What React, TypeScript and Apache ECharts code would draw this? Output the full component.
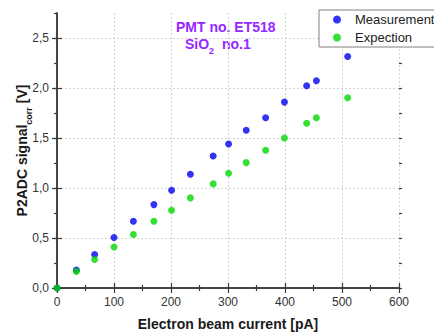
import React, { useEffect, useRef } from "react";
import * as echarts from "echarts";

const currentPA = [0, 34, 66, 100, 134, 170, 201, 234, 274, 301, 332, 366, 399, 438, 455, 510];
const measurement = [0, 0.18, 0.335, 0.505, 0.668, 0.834, 0.978, 1.138, 1.32, 1.44, 1.577, 1.703, 1.859, 2.022, 2.072, 2.315];
const expection = [0, 0.166, 0.285, 0.41, 0.535, 0.668, 0.778, 0.901, 1.041, 1.148, 1.254, 1.377, 1.5, 1.647, 1.703, 1.902];
const yMajorTicks = [0, 0.5, 1, 1.5, 2, 2.5];
const seriesNames = ["Measurement", "Expection"];

const AXIS_COLOR = "#3a3a3a";
const LABEL_COLOR = "#333";
const FONT = "Liberation Sans, Arial, sans-serif";

export default function App() {
  const ref = useRef<HTMLDivElement>(null);
  useEffect(() => {
    if (!ref.current) return;
    const chart = echarts.init(ref.current, null, { renderer: "svg" });
    const gridRect = { left: 57, right: 35, top: 13, bottom: 44, containLabel: false, outerBoundsMode: "none" };
    const axisLine = { show: true, lineStyle: { color: AXIS_COLOR, width: 1.5 } };
    const splitLine = { show: true, lineStyle: { color: "#d4d4d4", type: [2, 2], width: 1 } };
    chart.setOption({
      animation: false,
      textStyle: { fontFamily: FONT },
      grid: [{ ...gridRect }, { ...gridRect }],
      legend: {
        orient: "vertical",
        left: 319,
        top: 10,
        padding: [2, 2, 2, 14],
        itemGap: 3,
        itemWidth: 8,
        itemHeight: 8,
        icon: "circle",
        backgroundColor: "#fff",
        borderColor: "#808080",
        borderWidth: 1,
        borderRadius: 0,
        textStyle: { fontSize: 13, color: "#222", padding: [0, 0, 0, 9], lineHeight: 15, fontFamily: FONT },
        data: seriesNames,
      },
      graphic: [
        {
          type: "text",
          left: 176,
          top: 20,
          style: { text: "PMT no. ET518", fill: "#9628ff", font: `bold 14px ${FONT}` },
        },
        {
          type: "text",
          left: 185,
          top: 37,
          style: {
            text: "{a|SiO}{s|2}{a|  no.1}",
            rich: {
              a: { fill: "#9628ff", fontSize: 14, fontWeight: "bold", fontFamily: FONT, lineHeight: 16, verticalAlign: "middle" },
              s: { fill: "#9628ff", fontSize: 9, fontWeight: "bold", fontFamily: FONT, lineHeight: 9, verticalAlign: "bottom", padding: [0, 0, -3, 0] },
            },
          },
        },
      ],
      xAxis: [
        {
          gridIndex: 0,
          type: "value",
          position: "bottom",
          min: 0,
          max: 600,
          interval: 100,
          axisLine,
          axisTick: { show: true, inside: false, length: 5, lineStyle: { color: AXIS_COLOR, width: 1.2 } },
          minorTick: { show: true, splitNumber: 2, length: 3, lineStyle: { color: AXIS_COLOR, width: 1.2 } },
          axisLabel: { fontSize: 12, color: LABEL_COLOR, margin: 8, fontFamily: FONT },
          splitLine,
          name: "Electron beam current [pA]",
          nameLocation: "middle",
          nameGap: 29,
          nameMoveOverlap: false,
          nameTextStyle: { fontSize: 14, fontWeight: "bold", color: "#1a1a1a", fontFamily: FONT },
        },
        {
          gridIndex: 0,
          type: "value",
          position: "top",
          min: 0,
          max: 600,
          interval: 100,
          axisLine,
          axisTick: { show: true, inside: false, length: 5, lineStyle: { color: AXIS_COLOR, width: 1.2 } },
          minorTick: { show: true, splitNumber: 2, length: 3, lineStyle: { color: AXIS_COLOR, width: 1.2 } },
          axisLabel: { show: false },
          splitLine: { show: false },
        },
        {
          gridIndex: 1,
          type: "value",
          min: 0,
          max: 600,
          show: false,
        },
      ],
      yAxis: [
        {
          gridIndex: 0,
          type: "value",
          position: "left",
          min: 0,
          max: 2.75,
          interval: 0.5,
          axisLine,
          axisTick: { show: true, inside: false, length: 5, customValues: yMajorTicks, lineStyle: { color: AXIS_COLOR, width: 1.2 } },
          axisLabel: {
            fontSize: 12,
            color: LABEL_COLOR,
            margin: 8,
            fontFamily: FONT,
            customValues: yMajorTicks,
            formatter: (v: number) => v.toFixed(1).replace(".", ","),
          },
          splitLine,
          name: "{a|P2ADC signal}{s|corr}{a| [V]}",
          nameLocation: "middle",
          nameGap: 27,
          nameMoveOverlap: false,
          nameTextStyle: {
            rich: {
              a: { fontSize: 14, fontWeight: "bold", color: "#1a1a1a", fontFamily: FONT, lineHeight: 16, verticalAlign: "middle" },
              s: { fontSize: 9, fontWeight: "bold", color: "#1a1a1a", fontFamily: FONT, lineHeight: 9, verticalAlign: "bottom", padding: [0, 0, -3, 0] },
            },
          },
        },
        {
          gridIndex: 0,
          type: "value",
          position: "right",
          min: 0,
          max: 2.75,
          interval: 0.5,
          axisLine,
          axisTick: { show: true, inside: false, length: 5, customValues: yMajorTicks, lineStyle: { color: AXIS_COLOR, width: 1.2 } },
          axisLabel: { show: false },
          splitLine: { show: false },
        },
        {
          gridIndex: 1,
          type: "value",
          position: "left",
          min: 0,
          max: 2.75,
          interval: 0.25,
          axisLine: { show: false },
          axisTick: { show: true, inside: false, length: 3, lineStyle: { color: AXIS_COLOR, width: 1.2 } },
          axisLabel: { show: false },
          splitLine: { show: false },
        },
        {
          gridIndex: 1,
          type: "value",
          position: "right",
          min: 0,
          max: 2.75,
          interval: 0.25,
          axisLine: { show: false },
          axisTick: { show: true, inside: false, length: 3, lineStyle: { color: AXIS_COLOR, width: 1.2 } },
          axisLabel: { show: false },
          splitLine: { show: false },
        },
      ],
      series: [
        {
          name: seriesNames[0],
          type: "scatter",
          xAxisIndex: 0,
          yAxisIndex: 0,
          symbol: "circle",
          symbolSize: 7,
          clip: false,
          itemStyle: { color: "#0000f0" },
          data: currentPA.map((x, i) => [x, measurement[i]]),
          z: 3,
        },
        {
          name: seriesNames[1],
          type: "scatter",
          xAxisIndex: 0,
          yAxisIndex: 0,
          symbol: "circle",
          symbolSize: 7,
          clip: false,
          itemStyle: { color: "#00d800" },
          data: currentPA.map((x, i) => [x, expection[i]]),
          z: 4,
        },
      ],
    });
    return () => chart.dispose();
  }, []);
  return <div ref={ref} style={{ width: 434, height: 332, position: "absolute", left: 0, top: 0 }} />;
}
